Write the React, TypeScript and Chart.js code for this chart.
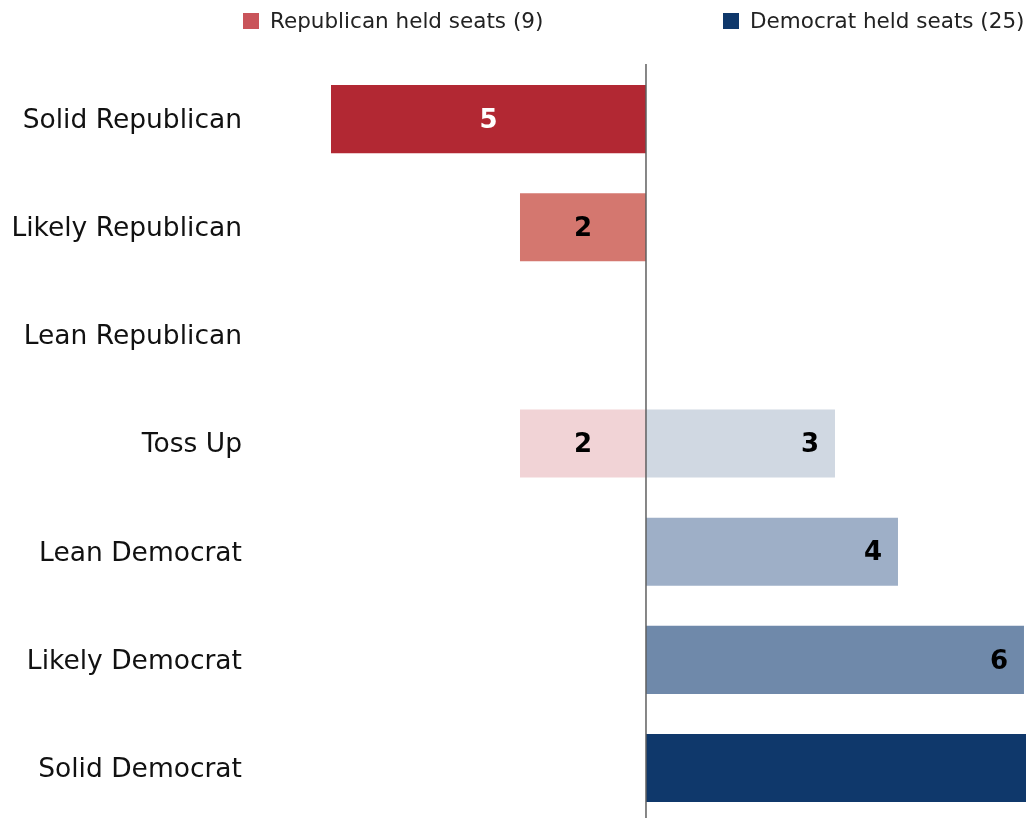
import React, { useEffect, useRef } from "react";
import { Chart, registerables } from "chart.js";

Chart.register(...registerables);

const categories = [
  "Solid Republican",
  "Likely Republican",
  "Lean Republican",
  "Toss Up",
  "Lean Democrat",
  "Likely Democrat",
  "Solid Democrat",
];
const republicanSeats = [5, 2, 0, 2, 0, 0, 0];
const democratSeats = [0, 0, 0, 3, 4, 6, 12];
const republicanColors = ["#b22833", "#d4776f", "#e8a9a8", "#f1d3d6", "#f1d3d6", "#f1d3d6", "#f1d3d6"];
const democratColors = ["#d0d8e2", "#d0d8e2", "#d0d8e2", "#d0d8e2", "#9eafc7", "#6f89aa", "#0f386b"];
const republicanLegend = "Republican held seats (9)";
const democratLegend = "Democrat held seats (25)";
const FONT = "'DejaVu Sans', Verdana, sans-serif";

const labelPlugin = {
  id: "barLabels",
  afterDatasetsDraw(chart: any) {
    const ctx = chart.ctx;
    ctx.save();
    ctx.font = `bold 26px ${FONT}`;
    ctx.textBaseline = "middle";
    chart.data.datasets.forEach((ds: any, di: number) => {
      const meta = chart.getDatasetMeta(di);
      meta.data.forEach((bar: any, i: number) => {
        const raw = di === 0 ? republicanSeats[i] : democratSeats[i];
        if (!raw) return;
        const dark = (di === 0 && i === 0) || (di === 1 && i === 6);
        ctx.fillStyle = dark ? "#ffffff" : "#000000";
        if (di === 0) {
          ctx.textAlign = "center";
          ctx.fillText(String(raw), (bar.x + bar.base) / 2, bar.y + 2);
        } else {
          ctx.textAlign = "right";
          ctx.fillText(String(raw), bar.x - 16, bar.y + 2);
        }
      });
    });
    // zero line
    const x0 = chart.scales.x.getPixelForValue(0);
    ctx.strokeStyle = "#5f5f5f";
    ctx.lineWidth = 1.5;
    ctx.beginPath();
    ctx.moveTo(x0, chart.chartArea.top - 1);
    ctx.lineTo(x0, chart.chartArea.bottom + 10);
    ctx.stroke();
    ctx.restore();
  },
};

export default function App() {
  const ref = useRef<HTMLCanvasElement>(null);
  useEffect(() => {
    if (!ref.current) return;
    const chart = new Chart(ref.current, {
      type: "bar",
      data: {
        labels: categories,
        datasets: [
          {
            label: republicanLegend,
            data: republicanSeats.map((v) => -v),
            backgroundColor: republicanColors,
            categoryPercentage: 1,
            barPercentage: 0.63,
          },
          {
            label: democratLegend,
            data: democratSeats,
            backgroundColor: democratColors,
            categoryPercentage: 1,
            barPercentage: 0.63,
          },
        ],
      },
      options: {
        indexAxis: "y",
        animation: false,
        responsive: false,
        maintainAspectRatio: false,
        layout: { padding: { top: 65, bottom: 8, left: 0, right: 0 } },
        plugins: { legend: { display: false }, tooltip: { enabled: false } },
        scales: {
          x: {
            stacked: true,
            display: false,
            min: -6,
            max: 6.032,
          },
          y: {
            stacked: true,
            grid: { display: false, drawTicks: false },
            border: { display: false },
            ticks: {
              padding: 26,
              labelOffset: 2,
              color: "#111",
              font: { family: FONT, size: 26.5 },
            },
            afterFit(scale: any) {
              scale.width = 268;
            },
          },
        },
      },
      plugins: [labelPlugin],
    });
    return () => chart.destroy();
  }, []);

  const legendText: React.CSSProperties = {
    position: "absolute",
    top: 7,
    fontFamily: FONT,
    fontSize: 21.5,
    color: "#222",
    whiteSpace: "nowrap",
    lineHeight: "28px",
  };
  const sq = (left: number, color: string): React.CSSProperties => ({
    position: "absolute",
    left,
    top: 13,
    width: 16,
    height: 16,
    background: color,
  });

  return (
    <div style={{ position: "fixed", left: 0, top: 0, width: 1026, height: 818, overflow: "hidden", background: "#fff" }}>
      <canvas ref={ref} width={1026} height={864} style={{ display: "block" }} />
      <div style={sq(243, "#c9545a")} />
      <div style={{ ...legendText, left: 270 }}>{republicanLegend}</div>
      <div style={sq(723, "#0f386b")} />
      <div style={{ ...legendText, left: 750 }}>{democratLegend}</div>
    </div>
  );
}
